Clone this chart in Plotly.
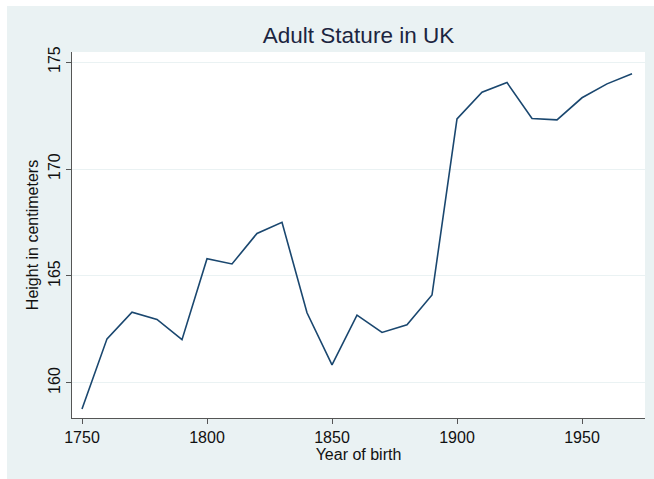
import plotly.graph_objects as go

years = [1750, 1760, 1770, 1780, 1790, 1800, 1810, 1820, 1830, 1840, 1850, 1860,
         1870, 1880, 1890, 1900, 1910, 1920, 1930, 1940, 1950, 1960, 1970]
height_cm = [158.78, 162.06, 163.31, 162.97, 162.02, 165.81, 165.56, 166.99, 167.51,
             163.28, 160.84, 163.17, 162.36, 162.72, 164.11, 172.34, 173.59, 174.04,
             172.36, 172.30, 173.33, 173.98, 174.45]
x_ticks = [1750, 1800, 1850, 1900, 1950]
y_ticks = [160, 165, 170, 175]

BG = "#EAF2F3"
NAVY = "#1A476F"
FONT = "Arial, Liberation Sans, sans-serif"
FS = 16

fig = go.Figure()
fig.add_trace(go.Scatter(x=years, y=height_cm, mode="lines",
                         line=dict(color=NAVY, width=1.6), hoverinfo="skip"))

W, H = 654, 479
L, R, T, B = 72, 9, 52, 61
pw, ph = W - L - R, H - T - B

def px_to_paper_x(px):
    return (px - L) / pw

def px_to_paper_y(py):
    return (H - B - py) / ph

# white frame strips on the left and top edges (as in the reference)
shapes = [
    dict(type="rect", xref="paper", yref="paper", layer="below",
         x0=px_to_paper_x(-5), x1=px_to_paper_x(7),
         y0=px_to_paper_y(H + 5), y1=px_to_paper_y(-5),
         fillcolor="white", line=dict(width=0)),
    dict(type="rect", xref="paper", yref="paper", layer="below",
         x0=px_to_paper_x(-5), x1=px_to_paper_x(W + 5),
         y0=px_to_paper_y(6), y1=px_to_paper_y(-5),
         fillcolor="white", line=dict(width=0)),
    dict(type="rect", xref="paper", yref="paper", layer="below",
         x0=0, x1=1, y0=0, y1=1, fillcolor="white", line=dict(width=0)),
]

fig.update_layout(
    width=W, height=H,
    margin=dict(l=L, r=R, t=T, b=B, pad=0, autoexpand=False),
    paper_bgcolor=BG, plot_bgcolor="white",
    showlegend=False,
    shapes=shapes,
    font=dict(family=FONT, size=FS, color="#111111"),
    title=dict(text="Adult Stature in UK", x=0.5, xref="paper", xanchor="center",
               y=(H - 35) / H, yref="container", yanchor="middle",
               font=dict(family=FONT, size=22.5, color="#1c2540")),
    xaxis=dict(range=[1746, 1975.2], tickvals=x_ticks, ticktext=[str(v) for v in x_ticks],
               automargin=False,
               showgrid=False, zeroline=False, showline=True, linecolor="#555555", linewidth=1,
               ticks="outside", ticklen=5, tickcolor="#555555", tickwidth=1,
               tickfont=dict(size=FS, color="#111111"),
               title=dict(text="Year of birth", font=dict(size=FS, color="#111111"), standoff=0)),
    yaxis=dict(range=[158.36, 175.47], tickvals=y_ticks, ticktext=[str(v) for v in y_ticks],
               tickangle=-90, automargin=False,
               showgrid=True, gridcolor=BG, gridwidth=1.2, zeroline=False,
               showline=True, linecolor="#555555", linewidth=1,
               ticks="outside", ticklen=5, tickcolor="#555555", tickwidth=1,
               tickfont=dict(size=FS, color="#111111"),
               title=dict(text="Height in centimeters", font=dict(size=FS, color="#111111"), standoff=2)),
)

fig.write_html(
    "out.html",
    config={"displayModeBar": False},
    post_script=("document.body.style.margin='0';document.body.style.overflow='hidden';"
                 "document.documentElement.style.overflow='hidden';"),
)
